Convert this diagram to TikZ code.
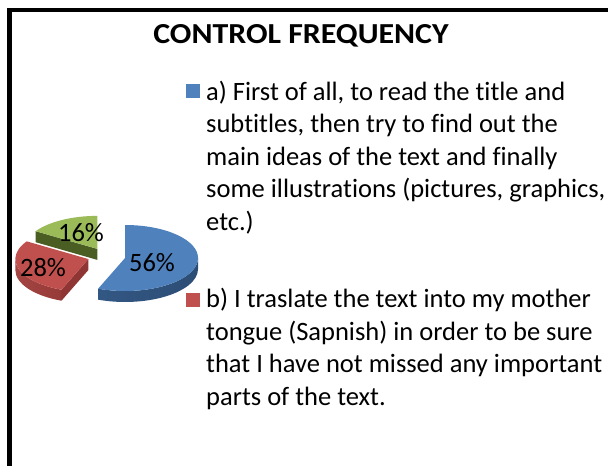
\documentclass[tikz,border=0pt]{standalone}
\usepackage{fontspec}
\setmainfont{Carlito}[Ligatures=NoCommon]
\usepackage{tikz}
\usetikzlibrary{calc}
\usetikzlibrary{positioning}

\definecolor{pieblue}{HTML}{4F81BD}
\definecolor{pieblueside}{HTML}{2C4D75}
\definecolor{piered}{HTML}{C0504D}
\definecolor{pieredside}{HTML}{8F3533}
\definecolor{piegreen}{HTML}{9BBB59}
\definecolor{piegreenside}{HTML}{4A5D23}

\tikzset{
  legtext/.style={anchor=base west,inner sep=0pt,font=\fontsize{26.5}{32}\selectfont},
  legkey/.style={minimum size=14pt,inner sep=0pt},
  pct/.style={anchor=base,inner sep=0pt,font=\fontsize{26.5}{32}\selectfont}
}

\begin{document}
\begin{tikzpicture}[line cap=butt,line join=miter,x=1pt,y=1pt]
\useasboundingbox (0,0) rectangle (608,466);
% Frame
\draw[line width=4.5pt] (9.5,-5) -- (9.5,456) -- (615,456);
% Title
\node[anchor=base,inner sep=0pt,xscale=1.1,font=\fontsize{29}{32}\selectfont\bfseries] (title) at (301,422.7) {CONTROL FREQUENCY};
% Pie (exploded, seen from above)
\begin{scope}[shift={(106.4pt,209.6pt)},x=73pt,y=33pt]
\coordinate (green) at (118.8:0.26);
\coordinate (red) at (198:0.26);
\coordinate (blue) at (-10.8:0.26);
% 16%
\fill[piegreenside] (green) -- ++(147.6:1) -- ++(0,-0.333) -- ++(-32.4:1) -- cycle;
\fill[piegreen] (green) -- ++(90:1) arc (90:147.6:1) -- cycle;
% 28%
\shade[left color=piered!85!black,right color=pieredside] (red) ++(180:1) arc (180:248.4:1) -- ++(0,-0.333) arc (248.4:180:1) -- cycle;
\fill[pieredside] (red) -- ++(248.4:1) -- ++(0,-0.333) -- ++(68.4:1) -- cycle;
\fill[piered] (red) -- ++(147.6:1) arc (147.6:248.4:1) -- cycle;
% 56%
\shade[left color=pieblueside!80!pieblue,right color=pieblueside] (blue) ++(-111.6:1) arc (-111.6:0:1) -- ++(0,-0.333) arc (0:-111.6:1) -- cycle;
\fill[pieblue] (blue) -- ++(90:1) arc (90:-111.6:1) -- cycle;
\end{scope}
% Percentages
\node[pct] (p56) at (152,194) {56\%};
\node[pct] (p28) at (43,189) {28\%};
\node[pct] (p16) at (81,224) {16\%};
% Legend
\node[legkey,fill=pieblue] (keya) at (192.5,375) {};
\node[legkey,fill=piered] (keyb) at (192.5,166) {};
\foreach \txt [count=\i from 0] in {{a) First of all, to read the title and},
  {subtitles, then try to find out the},
  {main ideas of the text and finally},
  {some illustrations (pictures, graphics,},
  {etc.)}}
  \node[legtext] (la\i) at (206,365.5-32.5*\i) {\txt};
\foreach \txt [count=\i from 0] in {{b) I traslate the text into my mother},
  {tongue (Sapnish) in order to be sure},
  {that I have not missed any important},
  {parts of the text.}}
  \node[legtext] (lb\i) at (206,158-32.5*\i) {\txt};
\end{tikzpicture}
\end{document}
